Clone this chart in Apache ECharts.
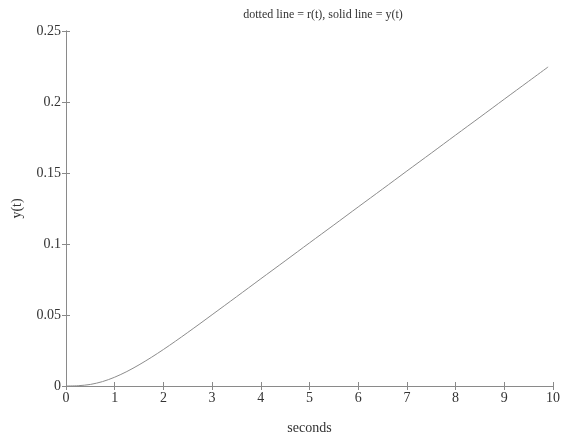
<!DOCTYPE html>
<html><head><meta charset="utf-8">
<script src="https://cdn.jsdelivr.net/npm/echarts@6/dist/echarts.min.js"></script>
<style>html,body{margin:0;padding:0;background:#fff}#c{width:561px;height:436px}</style>
</head><body><div id="c"></div>
<script>
const tValues = [0, 0.25, 0.5, 0.75, 1, 1.25, 1.5, 1.75, 2, 2.25, 2.5, 2.75, 3, 3.5, 4, 4.5, 5, 5.5, 6, 6.5, 7, 7.5, 8, 8.5, 9, 9.5, 9.9];
const yValues = [0, 0.0002, 0.0011, 0.0031, 0.0062, 0.0102, 0.0149, 0.0201, 0.0257, 0.0316, 0.0377, 0.0439, 0.0502, 0.0628, 0.0755, 0.0881, 0.1008, 0.1134, 0.1261, 0.1387, 0.1514, 0.164, 0.1767, 0.1893, 0.202, 0.2146, 0.2247];
const titleText = 'dotted line = r(t), solid line = y(t)';
const xName = 'seconds';
const yName = 'y(t)';

const font = 'Liberation Serif';
const axisColor = '#8a8a8a';
const txt = '#333';
const chart = echarts.init(document.getElementById('c'), null, {renderer: 'canvas'});
const baseX = {
  type: 'value', min: 0, max: 10, interval: 1,
  axisLine: {show: true, lineStyle: {color: axisColor, width: 1}},
  axisTick: {show: true, inside: true, length: 4, lineStyle: {color: axisColor}},
  splitLine: {show: false}
};
const baseY = {
  type: 'value', min: 0, max: 0.25, interval: 0.05,
  axisLine: {show: true, lineStyle: {color: axisColor, width: 1}},
  axisTick: {show: true, inside: true, length: 4, lineStyle: {color: axisColor}},
  splitLine: {show: false}
};
chart.setOption({
  animation: false,
  backgroundColor: '#fff',
  title: {text: titleText, left: 318, top: 4, textAlign: 'center',
    textStyle: {fontFamily: font, fontSize: 12, fontWeight: 'normal', color: txt}},
  grid: {left: 66, right: 8, top: 31, bottom: 50, containLabel: false, outerBoundsMode: 'none'},
  xAxis: [
    Object.assign({}, baseX, {position: 'bottom', name: xName, nameLocation: 'middle', nameGap: 35,
      nameTextStyle: {fontFamily: font, fontSize: 14, color: txt},
      axisLabel: {fontFamily: font, fontSize: 14, color: txt, margin: 5}}),
    Object.assign({}, baseX, {position: 'top', axisLabel: {show: false}})
  ],
  yAxis: [
    Object.assign({}, baseY, {position: 'left', name: yName, nameLocation: 'middle', nameGap: 42,
      nameTextStyle: {fontFamily: font, fontSize: 14, color: txt},
      axisLabel: {fontFamily: font, fontSize: 14, color: txt, margin: 5}}),
    Object.assign({}, baseY, {position: 'right', axisLabel: {show: false}})
  ],
  series: [{
    type: 'line', smooth: 0.3, symbol: 'none',
    data: tValues.map((t, i) => [t, yValues[i]]),
    lineStyle: {color: '#8c8c8c', width: 1}
  }]
});
</script></body></html>
